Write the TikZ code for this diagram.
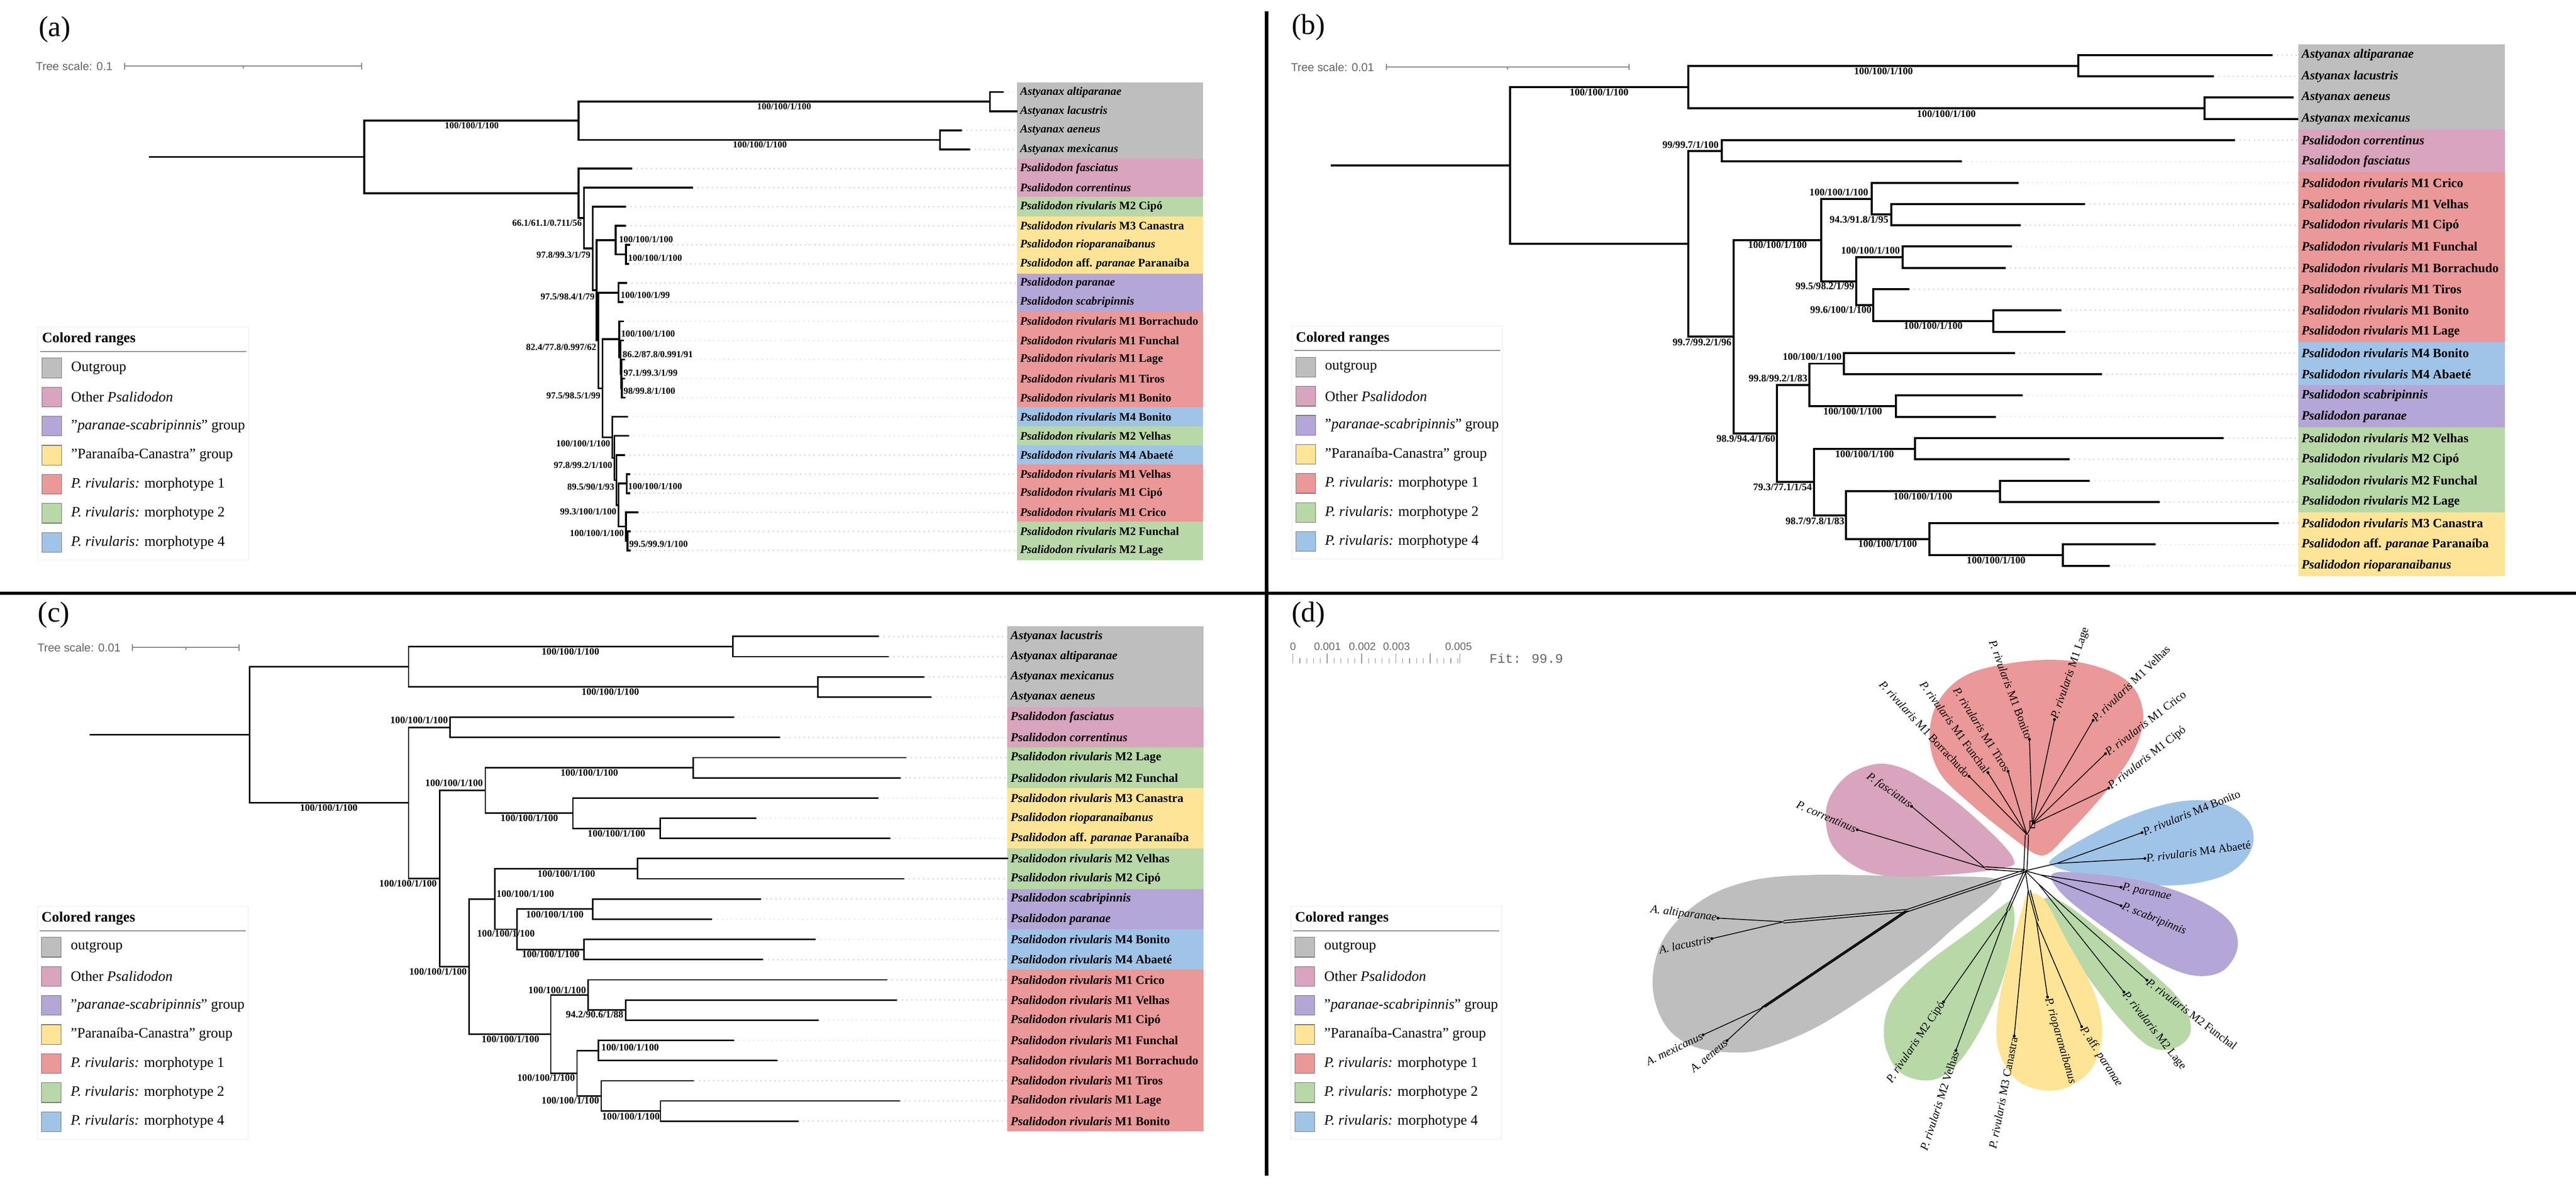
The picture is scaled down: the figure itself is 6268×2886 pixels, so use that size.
\documentclass[tikz,border=0pt]{standalone}
\usepackage{fontspec}
\setmainfont{Liberation Serif}
\newfontfamily\sansf{Liberation Sans}
\newfontfamily\monof{Liberation Mono}
\definecolor{cGray}{RGB}{190,190,190}
\definecolor{cPink}{RGB}{216,164,190}
\definecolor{cPurple}{RGB}{180,166,214}
\definecolor{cYellow}{RGB}{254,228,150}
\definecolor{cRed}{RGB}{234,152,152}
\definecolor{cGreen}{RGB}{184,216,168}
\definecolor{cBlue}{RGB}{160,196,232}
\definecolor{tsgray}{RGB}{100,100,100}
\newcommand\fs[1]{\fontsize{#1}{#1}\selectfont}
\newcommand\qd{\symbol{34}}
\newcommand\Ast[1]{\textit{Astyanax #1}}
\newcommand\Psa[1]{\textit{Psalidodon #1}}
\newcommand\Riv[1]{\textit{Psalidodon rivularis} #1}
\newcommand\Aff{\textit{Psalidodon} aff. \textit{paranae} Paranaíba}
\newcommand\dR[1]{\textit{P. rivularis} #1}
\newcommand\ya[1]{224+(#1-1)*46.45}
\newcommand\yb[1]{134+(#1-1)*51.75}
\newcommand\yc[1]{1548+(#1-1)*49.12}
\newcommand\legitem[4]{%
  \draw[legsq, fill=#3] (10,{76+#2*70.7}) rectangle (58,{124+#2*70.7});
  \node[legtext] (#1-le#2) at (81,{100+#2*70.7}) {#4};}
\newcommand\legendat[4]{%
  \begin{scope}[shift={(#2,#3)}]
  \draw[legframe] (0,0) rectangle (513,567);
  \node[legtitle] (#1-lt) at (10,30) {Colored ranges};
  \draw[legline] (6,60) -- (507,60);
  \legitem{#1}{0}{cGray}{#4}
  \legitem{#1}{1}{cPink}{Other \textit{Psalidodon}}
  \legitem{#1}{2}{cPurple}{\qd\textit{paranae-scabripinnis}\qd\ group}
  \legitem{#1}{3}{cYellow}{\qd Paranaíba-Canastra\qd\ group}
  \legitem{#1}{4}{cRed}{\textit{P. rivularis:} morphotype 1}
  \legitem{#1}{5}{cGreen}{\textit{P. rivularis:} morphotype 2}
  \legitem{#1}{6}{cBlue}{\textit{P. rivularis:} morphotype 4}
  \end{scope}}
\begin{document}
\begin{tikzpicture}[x=1pt,y=-1pt,
  divider/.style={line width=8pt, black},
  plab/.style={font=\fs{70}, inner sep=0pt},
  tscale/.style={font=\sansf\fs{28}, text=tsgray, anchor=west, inner sep=0pt},
  sbar/.style={draw=tsgray!80, line width=2.5pt},
  bra/.style={line width=4.5pt, line join=miter},
  brb/.style={line width=5pt, line join=miter},
  brc/.style={line width=3.5pt, line join=miter},
  guide/.style={draw=black!22, line width=2pt, dash pattern=on 2.5pt off 9pt},
  tipa/.style={anchor=west, inner sep=0pt, font=\fs{28}\bfseries},
  tipb/.style={anchor=west, inner sep=0pt, font=\fs{31}\bfseries},
  tipc/.style={anchor=west, inner sep=0pt, font=\fs{29.5}\bfseries},
  supa/.style={inner sep=0pt, font=\fs{22.5}\bfseries},
  supb/.style={inner sep=0pt, font=\fs{24.5}\bfseries},
  supc/.style={inner sep=0pt, font=\fs{24}\bfseries},
  legframe/.style={draw=black!8, line width=1.5pt},
  legtitle/.style={anchor=west, inner sep=0pt, font=\fs{35}\bfseries},
  legline/.style={draw=black!45, line width=2.5pt},
  legsq/.style={draw=black!55, line width=1.5pt},
  legtext/.style={anchor=west, inner sep=0pt, font=\fs{35}},
  net/.style={line width=2pt, black},
  dlab/.style={inner sep=3pt, font=\fs{28}},
  dscale/.style={font=\sansf\fs{26}, text=tsgray, inner sep=0pt},
]
\useasboundingbox (0,0) rectangle (6268,2886);
\fill[white] (0,0) rectangle (6268,2886);

% ---------- dividers ----------
\draw[divider] (3082,27) -- (3082,2860);
\draw[divider] (0,1443) -- (6268,1443);

% ---------- panel labels ----------
\node[plab] (a-lab) at (133,71) {(a)};
\node[plab] (b-lab) at (3184,67) {(b)};
\node[plab] (c-lab) at (131,1496) {(c)};
\node[plab] (d-lab) at (3184,1496) {(d)};

% =====================================================
% PANEL (a)
% =====================================================
\node[tscale] (a-ts) at (87,161) {Tree scale: 0.1};
\coordinate (a-s1) at (303,161); \coordinate (a-s2) at (880,161); \coordinate (a-s3) at (592,161);
\draw[sbar] (a-s1) -- (a-s2);
\draw[sbar] ([yshift=8pt]a-s1) -- ([yshift=-8pt]a-s1);
\draw[sbar] ([yshift=8pt]a-s2) -- ([yshift=-8pt]a-s2);
\draw[sbar] (a-s3) -- ([yshift=-6pt]a-s3);

% colored ranges
\fill[cGray]   (2475,{\ya{0.5}}) rectangle (2927,{\ya{4.5}});
\fill[cPink]   (2475,{\ya{4.5}}) rectangle (2927,{\ya{6.5}});
\fill[cGreen]  (2475,{\ya{6.5}}) rectangle (2927,{\ya{7.5}});
\fill[cYellow] (2475,{\ya{7.5}}) rectangle (2927,{\ya{10.5}});
\fill[cPurple] (2475,{\ya{10.5}}) rectangle (2927,{\ya{12.5}});
\fill[cRed]    (2475,{\ya{12.5}}) rectangle (2927,{\ya{17.5}});
\fill[cBlue]   (2475,{\ya{17.5}}) rectangle (2927,{\ya{18.5}});
\fill[cGreen]  (2475,{\ya{18.5}}) rectangle (2927,{\ya{19.5}});
\fill[cBlue]   (2475,{\ya{19.5}}) rectangle (2927,{\ya{20.5}});
\fill[cRed]    (2475,{\ya{20.5}}) rectangle (2927,{\ya{23.5}});
\fill[cGreen]  (2475,{\ya{23.5}}) rectangle (2927,{\ya{25.5}});

\coordinate (a-bx) at (2475,0);
\foreach \i/\x in {1/2442,2/2476,3/2340,4/2360,5/1538,6/1686,7/1523,8/1523,9/1533,10/1530,11/1525,12/1517,13/1518,14/1518,15/1520,16/1520,17/1522,18/1528,19/1531,20/1520,21/1533,22/1533,23/1553,24/1535,25/1535}
  {\coordinate (a-t\i) at (\x,{\ya{\i}});
   \draw[guide] (a-t\i) -- (a-t\i -| a-bx);}

\coordinate (a-r) at (362,381.9);
\coordinate (a-A) at (886,381.9);
\coordinate (a-O) at (1408,293.7);
\coordinate (a-O1) at (2409,247.2);
\coordinate (a-O2) at (2287,340.1);
\coordinate (a-B) at (1408,470.1);
\coordinate (a-C) at (1421,530.3);
\coordinate (a-D) at (1442,604.4);
\coordinate (a-D2) at (1452,706.0);
\coordinate (a-E) at (1498,584.0);
\coordinate (a-F) at (1523,618.8);
\coordinate (a-D3) at (1456,828.0);
\coordinate (a-G) at (1505,711.7);
\coordinate (a-D4) at (1466,944.4);
\coordinate (a-H1) at (1507,825.0);
\coordinate (a-H2) at (1510,868.5);
\coordinate (a-H3) at (1512,909.1);
\coordinate (a-H4) at (1513,944.0);
\coordinate (a-Q) at (1490,1063.7);
\coordinate (a-Q2) at (1495,1113.8);
\coordinate (a-Q3) at (1500,1167.5);
\coordinate (a-Q4) at (1505,1228.5);
\coordinate (a-J) at (1525,1176.2);
\coordinate (a-Q5) at (1523,1280.7);
\coordinate (a-M) at (1527,1315.6);
\draw[bra] (a-r) -- (a-A);
\foreach \p/\c in {A/O,A/B,O/O1,O/O2,O1/t1,O1/t2,O2/t3,O2/t4,B/t5,B/C,C/t6,C/D,D/t7,D/D2,D2/E,D2/D3,E/t8,E/F,F/t9,F/t10,D3/G,D3/D4,G/t11,G/t12,D4/H1,D4/Q,H1/t13,H1/H2,H2/t14,H2/H3,H3/t15,H3/H4,H4/t16,H4/t17,Q/t18,Q/Q2,Q2/t19,Q2/Q3,Q3/t20,Q3/Q4,Q4/J,Q4/Q5,J/t21,J/t22,Q5/t23,Q5/M,M/t24,M/t25}
  {\draw[bra] (a-\p) |- (a-\c);}

% support values (a)
\node[supa] (a-s-O) at (1148,306) {100/100/1/100};
\node[supa] (a-s-O1) at (1908,259) {100/100/1/100};
\node[supa] (a-s-O2) at (1849,352) {100/100/1/100};
\node[supa,anchor=east] (a-s-C) at (1416,542) {66.1/61.1/0.711/56};
\node[supa,anchor=east] (a-s-D) at (1437,620) {97.8/99.3/1/79};
\node[supa,anchor=west] (a-s-E) at (1506,582) {100/100/1/100};
\node[supa,anchor=west] (a-s-F) at (1528,627) {100/100/1/100};
\node[supa,anchor=east] (a-s-D2) at (1447,722) {97.5/98.4/1/79};
\node[supa,anchor=west] (a-s-G) at (1510,718) {100/100/1/99};
\node[supa,anchor=east] (a-s-D3) at (1451,845) {82.4/77.8/0.997/62};
\node[supa,anchor=west] (a-s-H1) at (1511,812) {100/100/1/100};
\node[supa,anchor=west] (a-s-H2) at (1515,862) {86.2/87.8/0.991/91};
\node[supa,anchor=west] (a-s-H3) at (1517,907) {97.1/99.3/1/99};
\node[supa,anchor=west] (a-s-H4) at (1517,951) {98/99.8/1/100};
\node[supa,anchor=east] (a-s-D4) at (1461,962) {97.5/98.5/1/99};
\node[supa,anchor=east] (a-s-Q) at (1485,1079) {100/100/1/100};
\node[supa,anchor=east] (a-s-Q2) at (1490,1131) {97.8/99.2/1/100};
\node[supa,anchor=east] (a-s-Q3) at (1495,1184) {89.5/90/1/93};
\node[supa,anchor=west] (a-s-J) at (1528,1183) {100/100/1/100};
\node[supa,anchor=east] (a-s-Q4) at (1500,1245) {99.3/100/1/100};
\node[supa,anchor=east] (a-s-Q5) at (1518,1297) {100/100/1/100};
\node[supa,anchor=west] (a-s-M) at (1531,1323) {99.5/99.9/1/100};

% tip labels (a)
\node[tipa] (a-l1) at (2482,{\ya{1}}) {\Ast{altiparanae}};
\node[tipa] (a-l2) at (2482,{\ya{2}}) {\Ast{lacustris}};
\node[tipa] (a-l3) at (2482,{\ya{3}}) {\Ast{aeneus}};
\node[tipa] (a-l4) at (2482,{\ya{4}}) {\Ast{mexicanus}};
\node[tipa] (a-l5) at (2482,{\ya{5}}) {\Psa{fasciatus}};
\node[tipa] (a-l6) at (2482,{\ya{6}}) {\Psa{correntinus}};
\node[tipa] (a-l7) at (2482,{\ya{7}}) {\Riv{M2 Cipó}};
\node[tipa] (a-l8) at (2482,{\ya{8}}) {\Riv{M3 Canastra}};
\node[tipa] (a-l9) at (2482,{\ya{9}}) {\Psa{rioparanaibanus}};
\node[tipa] (a-l10) at (2482,{\ya{10}}) {\Aff};
\node[tipa] (a-l11) at (2482,{\ya{11}}) {\Psa{paranae}};
\node[tipa] (a-l12) at (2482,{\ya{12}}) {\Psa{scabripinnis}};
\node[tipa] (a-l13) at (2482,{\ya{13}}) {\Riv{M1 Borrachudo}};
\node[tipa] (a-l14) at (2482,{\ya{14}}) {\Riv{M1 Funchal}};
\node[tipa] (a-l15) at (2482,{\ya{15}}) {\Riv{M1 Lage}};
\node[tipa] (a-l16) at (2482,{\ya{16}}) {\Riv{M1 Tiros}};
\node[tipa] (a-l17) at (2482,{\ya{17}}) {\Riv{M1 Bonito}};
\node[tipa] (a-l18) at (2482,{\ya{18}}) {\Riv{M4 Bonito}};
\node[tipa] (a-l19) at (2482,{\ya{19}}) {\Riv{M2 Velhas}};
\node[tipa] (a-l20) at (2482,{\ya{20}}) {\Riv{M4 Abaeté}};
\node[tipa] (a-l21) at (2482,{\ya{21}}) {\Riv{M1 Velhas}};
\node[tipa] (a-l22) at (2482,{\ya{22}}) {\Riv{M1 Cipó}};
\node[tipa] (a-l23) at (2482,{\ya{23}}) {\Riv{M1 Crico}};
\node[tipa] (a-l24) at (2482,{\ya{24}}) {\Riv{M2 Funchal}};
\node[tipa] (a-l25) at (2482,{\ya{25}}) {\Riv{M2 Lage}};

\legendat{a}{92}{795}{Outgroup}

% =====================================================
% PANEL (b)
% =====================================================
\node[tscale] (b-ts) at (3141,163) {Tree scale: 0.01};
\coordinate (b-s1) at (3373,163); \coordinate (b-s2) at (3964,163); \coordinate (b-s3) at (3668,163);
\draw[sbar] (b-s1) -- (b-s2);
\draw[sbar] ([yshift=8pt]b-s1) -- ([yshift=-8pt]b-s1);
\draw[sbar] ([yshift=8pt]b-s2) -- ([yshift=-8pt]b-s2);
\draw[sbar] (b-s3) -- ([yshift=-6pt]b-s3);

\fill[cGray]   (5592,{\yb{0.5}}) rectangle (6095,{\yb{4.5}});
\fill[cPink]   (5592,{\yb{4.5}}) rectangle (6095,{\yb{6.5}});
\fill[cRed]    (5592,{\yb{6.5}}) rectangle (6095,{\yb{14.5}});
\fill[cBlue]   (5592,{\yb{14.5}}) rectangle (6095,{\yb{16.5}});
\fill[cPurple] (5592,{\yb{16.5}}) rectangle (6095,{\yb{18.5}});
\fill[cGreen]  (5592,{\yb{18.5}}) rectangle (6095,{\yb{22.5}});
\fill[cYellow] (5592,{\yb{22.5}}) rectangle (6095,{\yb{25.5}});

\coordinate (b-bx) at (5592,0);
\foreach \i/\x in {1/5529,2/5387,3/5581,4/5592,5/5438,6/4774,7/4911,8/5073,9/4916,10/4895,11/4880,12/4646,13/5016,14/5026,15/4903,16/5115,17/4921,18/4857,19/5411,20/5036,21/5085,22/5255,23/5544,24/5245,25/5134}
  {\coordinate (b-t\i) at (\x,{\yb{\i}});
   \draw[guide] (b-t\i) -- (b-t\i -| b-bx);}

\coordinate (b-r) at (3238,402.3);
\coordinate (b-A) at (3674,402.3);
\coordinate (b-B) at (4108,211.6);
\coordinate (b-B1) at (5057,159.9);
\coordinate (b-B2) at (5364,263.4);
\coordinate (b-C) at (4108,592.9);
\coordinate (b-D) at (4189,366.9);
\coordinate (b-E) at (4218,818.9);
\coordinate (b-F) at (4432,583.6);
\coordinate (b-F1) at (4554,483.3);
\coordinate (b-F1b) at (4602,522.1);
\coordinate (b-F2) at (4517,683.9);
\coordinate (b-F3) at (4629,625.6);
\coordinate (b-F4) at (4558,742.1);
\coordinate (b-F5) at (4850,780.9);
\coordinate (b-G) at (4323,1054.2);
\coordinate (b-H) at (4403,936.1);
\coordinate (b-H1) at (4486,884.4);
\coordinate (b-H2) at (4613,987.9);
\coordinate (b-I) at (4414,1172.3);
\coordinate (b-I1) at (4660,1091.4);
\coordinate (b-J) at (4491,1253.1);
\coordinate (b-J1) at (4867,1194.9);
\coordinate (b-J2) at (4695,1311.3);
\coordinate (b-J3) at (5019,1350.1);
\draw[brb] (b-r) -- (b-A);
\foreach \p/\c in {A/B,A/C,B/B1,B/B2,B1/t1,B1/t2,B2/t3,B2/t4,C/D,C/E,D/t5,D/t6,E/F,E/G,F/F1,F/F2,F1/t7,F1/F1b,F1b/t8,F1b/t9,F2/F3,F2/F4,F3/t10,F3/t11,F4/t12,F4/F5,F5/t13,F5/t14,G/H,G/I,H/H1,H/H2,H1/t15,H1/t16,H2/t17,H2/t18,I/I1,I/J,I1/t19,I1/t20,J/J1,J/J2,J1/t21,J1/t22,J2/t23,J2/J3,J3/t24,J3/t25}
  {\draw[brb] (b-\p) |- (b-\c);}

\node[supb] (b-s-B) at (3891,225) {100/100/1/100};
\node[supb] (b-s-B1) at (4583,173) {100/100/1/100};
\node[supb] (b-s-B2) at (4736,277) {100/100/1/100};
\node[supb,anchor=east] (b-s-D) at (4182,353) {99/99.7/1/100};
\node[supb,anchor=east] (b-s-E) at (4213,832) {99.7/99.2/1/96};
\node[supb] (b-s-F) at (4325,596) {100/100/1/100};
\node[supb,anchor=east] (b-s-F1) at (4546,468) {100/100/1/100};
\node[supb,anchor=east] (b-s-F1b) at (4595,534) {94.3/91.8/1/95};
\node[supb,anchor=east] (b-s-F2) at (4512,696) {99.5/98.2/1/99};
\node[supb,anchor=east] (b-s-F3) at (4623,609) {100/100/1/100};
\node[supb,anchor=east] (b-s-F4) at (4554,754) {99.6/100/1/100};
\node[supb] (b-s-F5) at (4704,793) {100/100/1/100};
\node[supb,anchor=east] (b-s-G) at (4320,1067) {98.9/94.4/1/60};
\node[supb,anchor=east] (b-s-H) at (4398,920) {99.8/99.2/1/83};
\node[supb,anchor=east] (b-s-H1) at (4481,868) {100/100/1/100};
\node[supb] (b-s-H2) at (4508,1000) {100/100/1/100};
\node[supb,anchor=east] (b-s-I) at (4409,1185) {79.3/77.1/1/54};
\node[supb] (b-s-I1) at (4537,1104) {100/100/1/100};
\node[supb,anchor=east] (b-s-J) at (4488,1267) {98.7/97.8/1/83};
\node[supb] (b-s-J1) at (4679,1207) {100/100/1/100};
\node[supb] (b-s-J2) at (4593,1323) {100/100/1/100};
\node[supb] (b-s-J3) at (4857,1363) {100/100/1/100};

\node[tipb] (b-l1) at (5600,{\yb{1}}) {\Ast{altiparanae}};
\node[tipb] (b-l2) at (5600,{\yb{2}}) {\Ast{lacustris}};
\node[tipb] (b-l3) at (5600,{\yb{3}}) {\Ast{aeneus}};
\node[tipb] (b-l4) at (5600,{\yb{4}}) {\Ast{mexicanus}};
\node[tipb] (b-l5) at (5600,{\yb{5}}) {\Psa{correntinus}};
\node[tipb] (b-l6) at (5600,{\yb{6}}) {\Psa{fasciatus}};
\node[tipb] (b-l7) at (5600,{\yb{7}}) {\Riv{M1 Crico}};
\node[tipb] (b-l8) at (5600,{\yb{8}}) {\Riv{M1 Velhas}};
\node[tipb] (b-l9) at (5600,{\yb{9}}) {\Riv{M1 Cipó}};
\node[tipb] (b-l10) at (5600,{\yb{10}}) {\Riv{M1 Funchal}};
\node[tipb] (b-l11) at (5600,{\yb{11}}) {\Riv{M1 Borrachudo}};
\node[tipb] (b-l12) at (5600,{\yb{12}}) {\Riv{M1 Tiros}};
\node[tipb] (b-l13) at (5600,{\yb{13}}) {\Riv{M1 Bonito}};
\node[tipb] (b-l14) at (5600,{\yb{14}}) {\Riv{M1 Lage}};
\node[tipb] (b-l15) at (5600,{\yb{15}}) {\Riv{M4 Bonito}};
\node[tipb] (b-l16) at (5600,{\yb{16}}) {\Riv{M4 Abaeté}};
\node[tipb] (b-l17) at (5600,{\yb{17}}) {\Psa{scabripinnis}};
\node[tipb] (b-l18) at (5600,{\yb{18}}) {\Psa{paranae}};
\node[tipb] (b-l19) at (5600,{\yb{19}}) {\Riv{M2 Velhas}};
\node[tipb] (b-l20) at (5600,{\yb{20}}) {\Riv{M2 Cipó}};
\node[tipb] (b-l21) at (5600,{\yb{21}}) {\Riv{M2 Funchal}};
\node[tipb] (b-l22) at (5600,{\yb{22}}) {\Riv{M2 Lage}};
\node[tipb] (b-l23) at (5600,{\yb{23}}) {\Riv{M3 Canastra}};
\node[tipb] (b-l24) at (5600,{\yb{24}}) {\Aff};
\node[tipb] (b-l25) at (5600,{\yb{25}}) {\Psa{rioparanaibanus}};

\legendat{b}{3143}{793}{outgroup}

% =====================================================
% PANEL (c)
% =====================================================
\node[tscale] (c-ts) at (91,1575) {Tree scale: 0.01};
\coordinate (c-s1) at (322,1575); \coordinate (c-s2) at (582,1575); \coordinate (c-s3) at (452,1575);
\draw[sbar] (c-s1) -- (c-s2);
\draw[sbar] ([yshift=8pt]c-s1) -- ([yshift=-8pt]c-s1);
\draw[sbar] ([yshift=8pt]c-s2) -- ([yshift=-8pt]c-s2);
\draw[sbar] (c-s3) -- ([yshift=-6pt]c-s3);

\fill[cGray]   (2451,{\yc{0.5}}) rectangle (2928,{\yc{4.5}});
\fill[cPink]   (2451,{\yc{4.5}}) rectangle (2928,{\yc{6.5}});
\fill[cGreen]  (2451,{\yc{6.5}}) rectangle (2928,{\yc{8.5}});
\fill[cYellow] (2451,{\yc{8.5}}) rectangle (2928,{\yc{11.5}});
\fill[cGreen]  (2451,{\yc{11.5}}) rectangle (2928,{\yc{13.5}});
\fill[cPurple] (2451,{\yc{13.5}}) rectangle (2928,{\yc{15.5}});
\fill[cBlue]   (2451,{\yc{15.5}}) rectangle (2928,{\yc{17.5}});
\fill[cRed]    (2451,{\yc{17.5}}) rectangle (2928,{\yc{25.5}});

\coordinate (c-bx) at (2451,0);
\foreach \i/\x in {1/2139,2/2162,3/2249,4/2267,5/1786,6/1898,7/2205,8/2191,9/2137,10/1840,11/2166,12/2453,13/2200,14/1852,15/1733,16/1984,17/1857,18/2159,19/2183,20/1992,21/1786,22/1892,23/1689,24/2190,25/1943}
  {\coordinate (c-t\i) at (\x,{\yc{\i}});
   \draw[guide] (c-t\i) -- (c-t\i -| c-bx);}

\coordinate (c-r) at (218,1787.27);
\coordinate (c-A) at (607,1787.27);
\coordinate (c-B) at (994,1621.68);
\coordinate (c-B1) at (1783,1572.56);
\coordinate (c-B2) at (1990,1670.8);
\coordinate (c-C) at (994,1952.86);
\coordinate (c-D) at (1095,1769.04);
\coordinate (c-E) at (1070,2136.67);
\coordinate (c-F) at (1181,1922.54);
\coordinate (c-F1) at (1687,1867.28);
\coordinate (c-F2) at (1394,1977.8);
\coordinate (c-F3) at (1606,2014.64);
\coordinate (c-G) at (1141,2350.8);
\coordinate (c-H) at (1204,2186.56);
\coordinate (c-H1) at (1551,2112.88);
\coordinate (c-I) at (1258,2260.24);
\coordinate (c-I1) at (1442,2211.12);
\coordinate (c-I2) at (1421,2309.36);
\coordinate (c-J) at (1340,2515.05);
\coordinate (c-K) at (1431,2419.88);
\coordinate (c-K1) at (1522,2456.72);
\coordinate (c-L) at (1404,2610.22);
\coordinate (c-L1) at (1456,2554.96);
\coordinate (c-L2) at (1463,2665.48);
\coordinate (c-L3) at (1607,2702.32);
\draw[brc] (c-r) -- (c-A);
\foreach \p/\c in {A/B,A/C,B/B1,B/B2,B1/t1,B1/t2,B2/t3,B2/t4,C/D,C/E,D/t5,D/t6,E/F,E/G,F/F1,F/F2,F1/t7,F1/t8,F2/t9,F2/F3,F3/t10,F3/t11,G/H,G/J,H/H1,H/I,H1/t12,H1/t13,I/I1,I/I2,I1/t14,I1/t15,I2/t16,I2/t17,J/K,J/L,K/t18,K/K1,K1/t19,K1/t20,L/L1,L/L2,L1/t21,L1/t22,L2/t23,L2/L3,L3/t24,L3/t25}
  {\draw[brc] (c-\p) |- (c-\c);}

\node[supc] (c-s-B1) at (1388,1585) {100/100/1/100};
\node[supc] (c-s-B2) at (1485,1683) {100/100/1/100};
\node[supc] (c-s-C) at (800,1965) {100/100/1/100};
\node[supc,anchor=east] (c-s-D) at (1090,1752) {100/100/1/100};
\node[supc,anchor=east] (c-s-E) at (1063,2149) {100/100/1/100};
\node[supc,anchor=east] (c-s-F) at (1175,1905) {100/100/1/100};
\node[supc] (c-s-F1) at (1434,1879) {100/100/1/100};
\node[supc] (c-s-F2) at (1288,1990) {100/100/1/100};
\node[supc] (c-s-F3) at (1500,2027) {100/100/1/100};
\node[supc,anchor=east] (c-s-G) at (1136,2363) {100/100/1/100};
\node[supc,anchor=west] (c-s-H) at (1208,2174) {100/100/1/100};
\node[supc] (c-s-H1) at (1378,2125) {100/100/1/100};
\node[supc] (c-s-I) at (1231,2271) {100/100/1/100};
\node[supc] (c-s-I1) at (1350,2224) {100/100/1/100};
\node[supc] (c-s-I2) at (1340,2321) {100/100/1/100};
\node[supc] (c-s-J) at (1242,2528) {100/100/1/100};
\node[supc,anchor=east] (c-s-K) at (1426,2409) {100/100/1/100};
\node[supc,anchor=east] (c-s-K1) at (1517,2468) {94.2/90.6/1/88};
\node[supc,anchor=east] (c-s-L) at (1399,2622) {100/100/1/100};
\node[supc,anchor=west] (c-s-L1) at (1463,2547) {100/100/1/100};
\node[supc,anchor=east] (c-s-L2) at (1458,2677) {100/100/1/100};
\node[supc] (c-s-L3) at (1535,2716) {100/100/1/100};

\node[tipc] (c-l1) at (2459,{\yc{1}}) {\Ast{lacustris}};
\node[tipc] (c-l2) at (2459,{\yc{2}}) {\Ast{altiparanae}};
\node[tipc] (c-l3) at (2459,{\yc{3}}) {\Ast{mexicanus}};
\node[tipc] (c-l4) at (2459,{\yc{4}}) {\Ast{aeneus}};
\node[tipc] (c-l5) at (2459,{\yc{5}}) {\Psa{fasciatus}};
\node[tipc] (c-l6) at (2459,{\yc{6}}) {\Psa{correntinus}};
\node[tipc] (c-l7) at (2459,{\yc{7}}) {\Riv{M2 Lage}};
\node[tipc] (c-l8) at (2459,{\yc{8}}) {\Riv{M2 Funchal}};
\node[tipc] (c-l9) at (2459,{\yc{9}}) {\Riv{M3 Canastra}};
\node[tipc] (c-l10) at (2459,{\yc{10}}) {\Psa{rioparanaibanus}};
\node[tipc] (c-l11) at (2459,{\yc{11}}) {\Aff};
\node[tipc] (c-l12) at (2459,{\yc{12}}) {\Riv{M2 Velhas}};
\node[tipc] (c-l13) at (2459,{\yc{13}}) {\Riv{M2 Cipó}};
\node[tipc] (c-l14) at (2459,{\yc{14}}) {\Psa{scabripinnis}};
\node[tipc] (c-l15) at (2459,{\yc{15}}) {\Psa{paranae}};
\node[tipc] (c-l16) at (2459,{\yc{16}}) {\Riv{M4 Bonito}};
\node[tipc] (c-l17) at (2459,{\yc{17}}) {\Riv{M4 Abaeté}};
\node[tipc] (c-l18) at (2459,{\yc{18}}) {\Riv{M1 Crico}};
\node[tipc] (c-l19) at (2459,{\yc{19}}) {\Riv{M1 Velhas}};
\node[tipc] (c-l20) at (2459,{\yc{20}}) {\Riv{M1 Cipó}};
\node[tipc] (c-l21) at (2459,{\yc{21}}) {\Riv{M1 Funchal}};
\node[tipc] (c-l22) at (2459,{\yc{22}}) {\Riv{M1 Borrachudo}};
\node[tipc] (c-l23) at (2459,{\yc{23}}) {\Riv{M1 Tiros}};
\node[tipc] (c-l24) at (2459,{\yc{24}}) {\Riv{M1 Lage}};
\node[tipc] (c-l25) at (2459,{\yc{25}}) {\Riv{M1 Bonito}};

\legendat{c}{91}{2204}{outgroup}

% =====================================================
% PANEL (d)
% =====================================================
\node[dscale] (d-n0) at (3146,1572) {0};
\node[dscale] (d-n1) at (3230,1572) {0.001};
\node[dscale] (d-n2) at (3315,1572) {0.002};
\node[dscale] (d-n3) at (3398,1572) {0.003};
\node[dscale] (d-n5) at (3549,1572) {0.005};
\foreach \k in {0,...,24}
  {\pgfmathsetmacro\tx{3146+\k*16.7}
   \pgfmathtruncatemacro\md{mod(\k,5)}
   \ifnum\md=0 \draw[draw=tsgray!70, line width=2pt] (\tx,1589) -- (\tx,1613);
   \else \draw[draw=tsgray!70, line width=1.5pt] (\tx,1601) -- (\tx,1613); \fi}
\draw[draw=tsgray!70, line width=2pt] (3552,1589) -- (3552,1613);
\node[font=\monof\fs{32}, text=tsgray, anchor=west, inner sep=0pt] (d-fit) at (3624,1601) {Fit: 99.9};

% blobs
\fill[cGray] plot[smooth cycle, tension=0.6] coordinates {(4870,2148) (4840,2185) (4760,2252) (4680,2322) (4560,2410) (4420,2498) (4300,2548) (4223,2560) (4120,2545) (4050,2490) (4021,2390) (4050,2280) (4140,2190) (4260,2142) (4407,2128) (4600,2130) (4780,2132) (4850,2136)};
\fill[cPink] plot[smooth cycle, tension=0.6] coordinates {(4560,1859) (4490,1890) (4445,1960) (4455,2050) (4520,2110) (4611,2132) (4760,2126) (4880,2110) (4900,2092) (4860,2040) (4760,1950) (4680,1895) (4620,1865)};
\fill[cRed] plot[smooth cycle, tension=0.6] coordinates {(4953,2077) (4900,2040) (4800,1960) (4720,1880) (4695,1790) (4720,1700) (4800,1635) (4953,1606) (5080,1615) (5180,1660) (5215,1740) (5190,1830) (5120,1930) (5030,2030) (4985,2075)};
\fill[cBlue] plot[smooth cycle, tension=0.6] coordinates {(4990,2092) (5060,2045) (5180,1985) (5300,1950) (5400,1952) (5470,1995) (5480,2060) (5430,2120) (5330,2150) (5200,2150) (5060,2125) (5000,2108)};
\fill[cPurple] plot[smooth cycle, tension=0.6] coordinates {(4995,2125) (5050,2122) (5200,2140) (5330,2180) (5420,2235) (5445,2300) (5410,2360) (5340,2373) (5250,2340) (5140,2270) (5040,2195) (4998,2150)};
\fill[cGreen] plot[smooth cycle, tension=0.6] coordinates {(4975,2185) (5020,2195) (5120,2270) (5230,2360) (5310,2440) (5330,2510) (5290,2550) (5230,2545) (5160,2480) (5090,2390) (5020,2290) (4980,2220)};
\fill[cYellow] plot[smooth cycle, tension=0.6] coordinates {(4935,2175) (4975,2190) (5030,2290) (5090,2400) (5115,2500) (5095,2590) (5040,2640) (4975,2652) (4905,2625) (4862,2550) (4862,2450) (4890,2320) (4918,2220)};
\fill[cGreen] plot[smooth cycle, tension=0.6] coordinates {(4895,2195) (4900,2260) (4870,2390) (4810,2520) (4750,2600) (4690,2628) (4620,2605) (4585,2530) (4600,2440) (4680,2350) (4800,2260) (4870,2205)};

% network coordinates
\coordinate (d-c) at (4928,2118);
\coordinate (d-altip) at (4180,2233);
\coordinate (d-lacus) at (4165,2283);
\coordinate (d-mexic) at (4144,2517);
\coordinate (d-aeneu) at (4202,2531);
\coordinate (d-fasci) at (4651,1961);
\coordinate (d-corre) at (4519,2018);
\coordinate (d-borr) at (4791,1888);
\coordinate (d-func1) at (4837,1879);
\coordinate (d-tiro) at (4886,1876);
\coordinate (d-boni1) at (4938,1798);
\coordinate (d-lage1) at (4999,1750);
\coordinate (d-velh1) at (5093,1752);
\coordinate (d-cric) at (5123,1833);
\coordinate (d-cipo1) at (5131,1917);
\coordinate (d-boni4) at (5212,2025);
\coordinate (d-abae) at (5219,2088);
\coordinate (d-para) at (5161,2158);
\coordinate (d-scab) at (5161,2203);
\coordinate (d-func2) at (5224,2384);
\coordinate (d-lage2) at (5168,2413);
\coordinate (d-cana) at (4901,2520);
\coordinate (d-riop) at (4982,2425);
\coordinate (d-affp) at (5065,2497);
\coordinate (d-cipo2) at (4729,2437);
\coordinate (d-velh2) at (4759,2555);
% internal split points
\coordinate (d-og1) at (4340,2242);
\coordinate (d-og2) at (4290,2450);
\coordinate (d-og) at (4640,2215);
\coordinate (d-pk) at (4830,2111);
\coordinate (d-rd) at (4932,2030);
\coordinate (d-rd2) at (4945,2005);
\coordinate (d-bl) at (5004,2100);
\coordinate (d-pu) at (4965,2128);
\coordinate (d-gr) at (4960,2150);
\coordinate (d-ye) at (4935,2165);
\coordinate (d-ye2) at (4955,2240);
\coordinate (d-gl) at (4885,2215);

\draw[net] (d-altip) -- (d-og1);
\draw[net] (d-lacus) -- (d-og1);
\draw[net] ([yshift=3pt]d-og1) -- ([yshift=3pt]d-og);
\draw[net] ([yshift=-3pt]d-og1) -- ([yshift=-3pt]d-og);
\draw[net] (d-mexic) -- (d-og2);
\draw[net] (d-aeneu) -- (d-og2);
\draw[net] ([xshift=-4pt]d-og2) -- ([xshift=-4pt]d-og);
\draw[net] (d-og2) -- (d-og);
\draw[net] ([xshift=4pt]d-og2) -- ([xshift=4pt]d-og);
\draw[net] ([yshift=3pt]d-og) -- ([yshift=3pt]d-c);
\draw[net] ([yshift=-3pt]d-og) -- ([yshift=-3pt]d-c);
\draw[net] (d-fasci) -- (d-pk);
\draw[net] (d-corre) -- (d-pk);
\draw[net] ([yshift=3pt]d-pk) -- ([yshift=3pt]d-c);
\draw[net] ([yshift=-3pt]d-pk) -- ([yshift=-3pt]d-c);
\draw[net] (d-borr) -- (d-rd);
\draw[net] (d-func1) -- (d-rd);
\draw[net] (d-tiro) -- (d-rd);
\draw[net] (d-boni1) -- (d-rd2);
\draw[net] (d-lage1) -- (d-rd2);
\draw[net] (d-velh1) -- (d-rd2);
\draw[net] (d-cric) -- (d-rd2);
\draw[net] (d-cipo1) -- (d-rd2);
\draw[net] (d-rd2) -- (d-rd);
\draw[net] ([xshift=-4pt]d-rd) -- ([xshift=-4pt]d-c);
\draw[net] ([xshift=4pt]d-rd) -- ([xshift=4pt]d-c);
\draw[net] ([xshift=-6pt,yshift=-8pt]d-rd2) rectangle ([xshift=6pt,yshift=8pt]d-rd2);
\draw[net] (d-boni4) -- (d-bl);
\draw[net] (d-abae) -- (d-bl);
\draw[net] (d-bl) -- (d-c);
\draw[net] (d-para) -- (d-pu);
\draw[net] (d-scab) -- (d-pu);
\draw[net] (d-pu) -- (d-c);
\draw[net] (d-func2) -- (d-gr);
\draw[net] (d-lage2) -- (d-gr);
\draw[net] (d-gr) -- (d-c);
\draw[net] (d-cana) -- (d-ye);
\draw[net] (d-riop) -- (d-ye2);
\draw[net] (d-affp) -- (d-ye2);
\draw[net] (d-ye2) -- (d-ye);
\draw[net] ([xshift=5pt]d-ye2) -- ([xshift=5pt]d-ye);
\draw[net] (d-ye) -- (d-c);
\draw[net] (d-cipo2) -- (d-gl);
\draw[net] (d-velh2) -- (d-gl);
\draw[net] ([xshift=-3pt]d-gl) -- ([xshift=-3pt]d-c);
\draw[net] ([xshift=3pt]d-gl) -- ([xshift=3pt]d-c);
\foreach \t in {altip,lacus,mexic,aeneu,fasci,corre,borr,func1,tiro,boni1,lage1,velh1,cric,cipo1,boni4,abae,para,scab,func2,lage2,cana,riop,affp,cipo2,velh2}
  {\fill (d-\t) circle (3.5pt);}

% network labels
\node[dlab,anchor=east,rotate=-7] (d-L1) at (d-altip) {\textit{A. altiparanae}};
\node[dlab,anchor=east,rotate=12] (d-L2) at (d-lacus) {\textit{A. lacustris}};
\node[dlab,anchor=east,rotate=26] (d-L3) at (d-mexic) {\textit{A. mexicanus}};
\node[dlab,anchor=east,rotate=40] (d-L4) at (d-aeneu) {\textit{A. aeneus}};
\node[dlab,anchor=east,rotate=-35] (d-L5) at (d-fasci) {\textit{P. fasciatus}};
\node[dlab,anchor=east,rotate=-23] (d-L6) at (d-corre) {\textit{P. correntinus}};
\node[dlab,anchor=east,rotate=-47] (d-L7) at (d-borr) {\dR{M1 Borrachudo}};
\node[dlab,anchor=east,rotate=-54] (d-L8) at (d-func1) {\dR{M1 Funchal}};
\node[dlab,anchor=east,rotate=-58] (d-L9) at (d-tiro) {\dR{M1 Tiros}};
\node[dlab,anchor=east,rotate=-69.5] (d-L10) at (d-boni1) {\dR{M1 Bonito}};
\node[dlab,anchor=west,rotate=71] (d-L11) at (d-lage1) {\dR{M1 Lage}};
\node[dlab,anchor=west,rotate=44] (d-L12) at (d-velh1) {\dR{M1 Velhas}};
\node[dlab,anchor=west,rotate=37.5] (d-L13) at (d-cric) {\dR{M1 Crico}};
\node[dlab,anchor=west,rotate=38] (d-L14) at (d-cipo1) {\dR{M1 Cipó}};
\node[dlab,anchor=west,rotate=22] (d-L15) at (d-boni4) {\dR{M4 Bonito}};
\node[dlab,anchor=west,rotate=7.4] (d-L16) at (d-abae) {\dR{M4 Abaeté}};
\node[dlab,anchor=west,rotate=-11] (d-L17) at (d-para) {\textit{P. paranae}};
\node[dlab,anchor=west,rotate=-22] (d-L18) at (d-scab) {\textit{P. scabripinnis}};
\node[dlab,anchor=west,rotate=-37] (d-L19) at (d-func2) {\dR{M2 Funchal}};
\node[dlab,anchor=west,rotate=-52] (d-L20) at (d-lage2) {\dR{M2 Lage}};
\node[dlab,anchor=east,rotate=79] (d-L21) at (d-cana) {\dR{M3 Canastra}};
\node[dlab,anchor=west,rotate=-74] (d-L22) at (d-riop) {\textit{P. rioparanaibanus}};
\node[dlab,anchor=west,rotate=-57] (d-L23) at (d-affp) {\textit{P.} aff. \textit{paranae}};
\node[dlab,anchor=east,rotate=56] (d-L24) at (d-cipo2) {\dR{M2 Cipó}};
\node[dlab,anchor=east,rotate=72] (d-L25) at (d-velh2) {\dR{M2 Velhas}};

\legendat{d}{3141}{2204}{outgroup}
\end{tikzpicture}
\end{document}
